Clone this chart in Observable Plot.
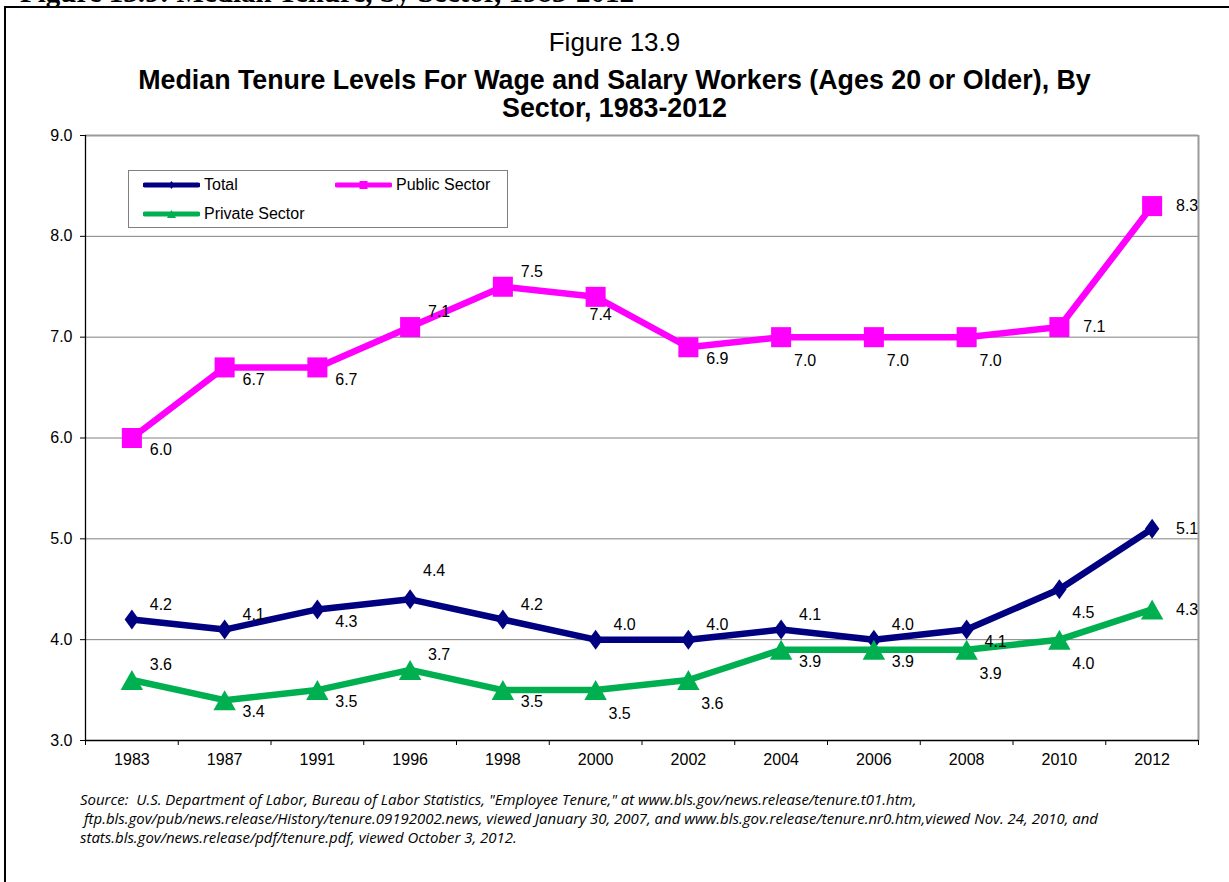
<!DOCTYPE html>
<html>
<head>
<meta charset="utf-8">
<script src="https://cdn.jsdelivr.net/npm/d3@7"></script>
<script src="https://cdn.jsdelivr.net/npm/@observablehq/plot@0.6"></script>
<style>
  body { margin: 0; background: #fff; font-family: Arial, "Liberation Sans", sans-serif; color: #000; }
  #page { position: relative; width: 1229px; height: 882px; overflow: hidden; background: #fff; }
  #cut { position: absolute; left: 20px; top: -22px; font: bold 29px/29px "Liberation Serif", "Times New Roman", serif; white-space: nowrap; }
  #frame { position: absolute; left: 4px; top: 6px; width: 1300px; height: 1000px; border-left: 2px solid #000; border-top: 2px solid #000; }
  #t1 { position: absolute; left: 0; width: 1229px; top: 28px; text-align: center; font-size: 26px; line-height: 28px; }
  #t2 { position: absolute; left: 0; width: 1229px; top: 66px; text-align: center; font-size: 26.8px; font-weight: bold; line-height: 28px; }
  #chart { position: absolute; left: 0; top: 100px; }
  #legend { position: absolute; left: 128px; top: 170px; width: 378px; height: 56px; border: 1px solid #808080; background: #fff; }
  #legend .item { position: absolute; font-size: 16px; line-height: 18px; white-space: nowrap; display: flex; align-items: center; }
  #legend svg { display: block; margin-right: 4px; }
  #source { position: absolute; left: 80px; top: 790px; font-family: "Open Sans", sans-serif; font-style: italic; font-size: 14px; line-height: 19px; white-space: nowrap; transform-origin: 0 0; }
</style>
</head>
<body>
<div id="page">
  <div id="cut">Figure 13.9: Median Tenure, by Sector, 1983-2012</div>
  <div id="frame"></div>
  <div id="t1">Figure 13.9</div>
  <div id="t2">Median Tenure Levels For Wage and Salary Workers (Ages 20 or Older), By<br>Sector, 1983-2012</div>
  <div id="chart"></div>
  <div id="legend"></div>
  <div id="source">
    <div>Source:&nbsp; U.S. Department of Labor, Bureau of Labor Statistics, "Employee Tenure," at www.bls.gov/news.release/tenure.t01.htm,</div>
    <div id="srcLong">&nbsp;ftp.bls.gov/pub/news.release/History/tenure.09192002.news, viewed January 30, 2007, and www.bls.gov.release/tenure.nr0.htm,viewed Nov. 24, 2010, and</div>
    <div>stats.bls.gov/news.release/pdf/tenure.pdf, viewed October 3, 2012.</div>
  </div>
</div>
<script>
// ---- data ----
const years = ["1983", "1987", "1991", "1996", "1998", "2000", "2002", "2004", "2006", "2008", "2010", "2012"];
const totalValues   = [4.2, 4.1, 4.3, 4.4, 4.2, 4.0, 4.0, 4.1, 4.0, 4.1, 4.5, 5.1];
const publicValues  = [6.0, 6.7, 6.7, 7.1, 7.5, 7.4, 6.9, 7.0, 7.0, 7.0, 7.1, 8.3];
const privateValues = [3.6, 3.4, 3.5, 3.7, 3.5, 3.5, 3.6, 3.9, 3.9, 3.9, 4.0, 4.3];
const seriesNames  = ["Total", "Public Sector", "Private Sector"];
const yTicks = [3, 4, 5, 6, 7, 8, 9];

// ---- styling (label placement codes, like Excel's per-label positions) ----
const seriesColors = ["#000080", "#FF00FF", "#00B050"];
const totalPlace   = ["A", "A", "B", "AH", "A", "A", "A", "A", "A", "B", "BB", "R"];
const publicPlace  = ["B", "B", "B", "A", "A", "C", "B", "BB", "BB", "BB", "R", "R"];
const privatePlace = ["A", "B", "B", "A", "B", "BB", "BB", "B", "B", "BB", "BB", "R"];
const placements = { A: [29, -15], AH: [24, -28], B: [29, 12], BB: [24, 24], C: [5, 18], R: [35, 0] };

// bbox-centred custom symbols
const diamondSym = { draw(ctx, size) { const s = Math.sqrt(size); const h = s / 2, w = s * 0.36;
  ctx.moveTo(0, -h); ctx.lineTo(w, 0); ctx.lineTo(0, h); ctx.lineTo(-w, 0); ctx.closePath(); } };
const squareSym = { draw(ctx, size) { const h = Math.sqrt(size) / 2; ctx.rect(-h, -h, 2 * h, 2 * h); } };
const triangleSym = { draw(ctx, size) { const s = Math.sqrt(size); const h = s / 2, w = s * 0.56;
  ctx.moveTo(0, -h); ctx.lineTo(w, h); ctx.lineTo(-w, h); ctx.closePath(); } };
const symbols = [diamondSym, squareSym, triangleSym];
const symbolR = [11.3, 11.3, 11.3];

const rows = [];
[[totalValues, totalPlace], [publicValues, publicPlace], [privateValues, privatePlace]].forEach(([vals, places], s) => {
  vals.forEach((v, i) => rows.push({ series: seriesNames[s], s, i, year: years[i], value: v, place: places[i] }));
});

const idx = d3.range(years.length);
const boundaries = d3.range(years.length + 1).map(i => i - 0.5);

const marks = [
  Plot.ruleY(yTicks.slice(1, -1), { stroke: "#808080", strokeWidth: 1 }),
  Plot.ruleY([yTicks[yTicks.length - 1]], { stroke: "#9a9a9a", strokeWidth: 2 }),
  Plot.ruleX([boundaries[boundaries.length - 1]], { stroke: "#9a9a9a", strokeWidth: 2 }),
  Plot.ruleX([boundaries[0]], { stroke: "#000", strokeWidth: 1.3 }),
  Plot.ruleY([yTicks[0]], { stroke: "#000", strokeWidth: 1.3 }),
  Plot.axisY({ ticks: yTicks, tickFormat: d => d.toFixed(1), tickSize: 5, tickPadding: 8, label: null }),
  Plot.axisX({ ticks: boundaries, tickFormat: () => "", tickSize: 5, label: null }),
  Plot.axisX({ ticks: idx, tickFormat: i => years[i], tickSize: 0, tickPadding: 13, label: null }),
];
seriesNames.forEach((name, s) => {
  const d = rows.filter(r => r.s === s);
  marks.push(Plot.lineY(d, { x: "i", y: "value", stroke: seriesColors[s], strokeWidth: 6.5, strokeLinejoin: "miter" }));
  marks.push(Plot.dot(d, { x: "i", y: "value", symbol: symbols[s], r: symbolR[s], fill: seriesColors[s], stroke: "none" }));
});
Object.entries(placements).forEach(([code, [dx, dy]]) => {
  marks.push(Plot.text(rows.filter(r => r.place === code), {
    x: "i", y: "value", text: d => d.value.toFixed(1), dx, dy,
    textAnchor: "middle", lineAnchor: "middle", fill: "#000", fontSize: 16
  }));
});

const chart = Plot.plot({
  width: 1229, height: 680,
  marginTop: 35, marginBottom: 40, marginLeft: 85, marginRight: 31,
  style: { fontFamily: "Arial, 'Liberation Sans', sans-serif", fontSize: "16px", color: "#000", background: "transparent", overflow: "visible" },
  x: { type: "linear", domain: [boundaries[0], boundaries[boundaries.length - 1]] },
  y: { domain: [yTicks[0], yTicks[yTicks.length - 1]] },
  marks
});
document.getElementById("chart").appendChild(chart);

// ---- legend ----
const legend = document.getElementById("legend");
const legendPos = [[14, 14], [206, 14], [14, 43]];
seriesNames.forEach((name, s) => {
  const item = document.createElement("div");
  item.className = "item";
  item.style.left = legendPos[s][0] + "px";
  item.style.top = (legendPos[s][1] - 9) + "px";
  const svg = d3.create("svg").attr("width", 57).attr("height", 18);
  svg.append("line").attr("x1", 2).attr("x2", 55).attr("y1", 9).attr("y2", 9)
    .attr("stroke", seriesColors[s]).attr("stroke-width", 5).attr("stroke-linecap", "round");
  svg.append("path").attr("transform", "translate(28.5,9)")
    .attr("d", d3.symbol(symbols[s], 64)()).attr("fill", seriesColors[s]);
  item.appendChild(svg.node());
  const t = document.createElement("span");
  t.textContent = name;
  item.appendChild(t);
  legend.appendChild(item);
});

// fit the source note to the reference line length
const src = document.getElementById("source");
const longLine = document.getElementById("srcLong");
const range = document.createRange();
range.selectNodeContents(longLine);
const w = range.getBoundingClientRect().width;
if (w > 0) src.style.transform = `scaleX(${1018 / w})`;
</script>
</body>
</html>
